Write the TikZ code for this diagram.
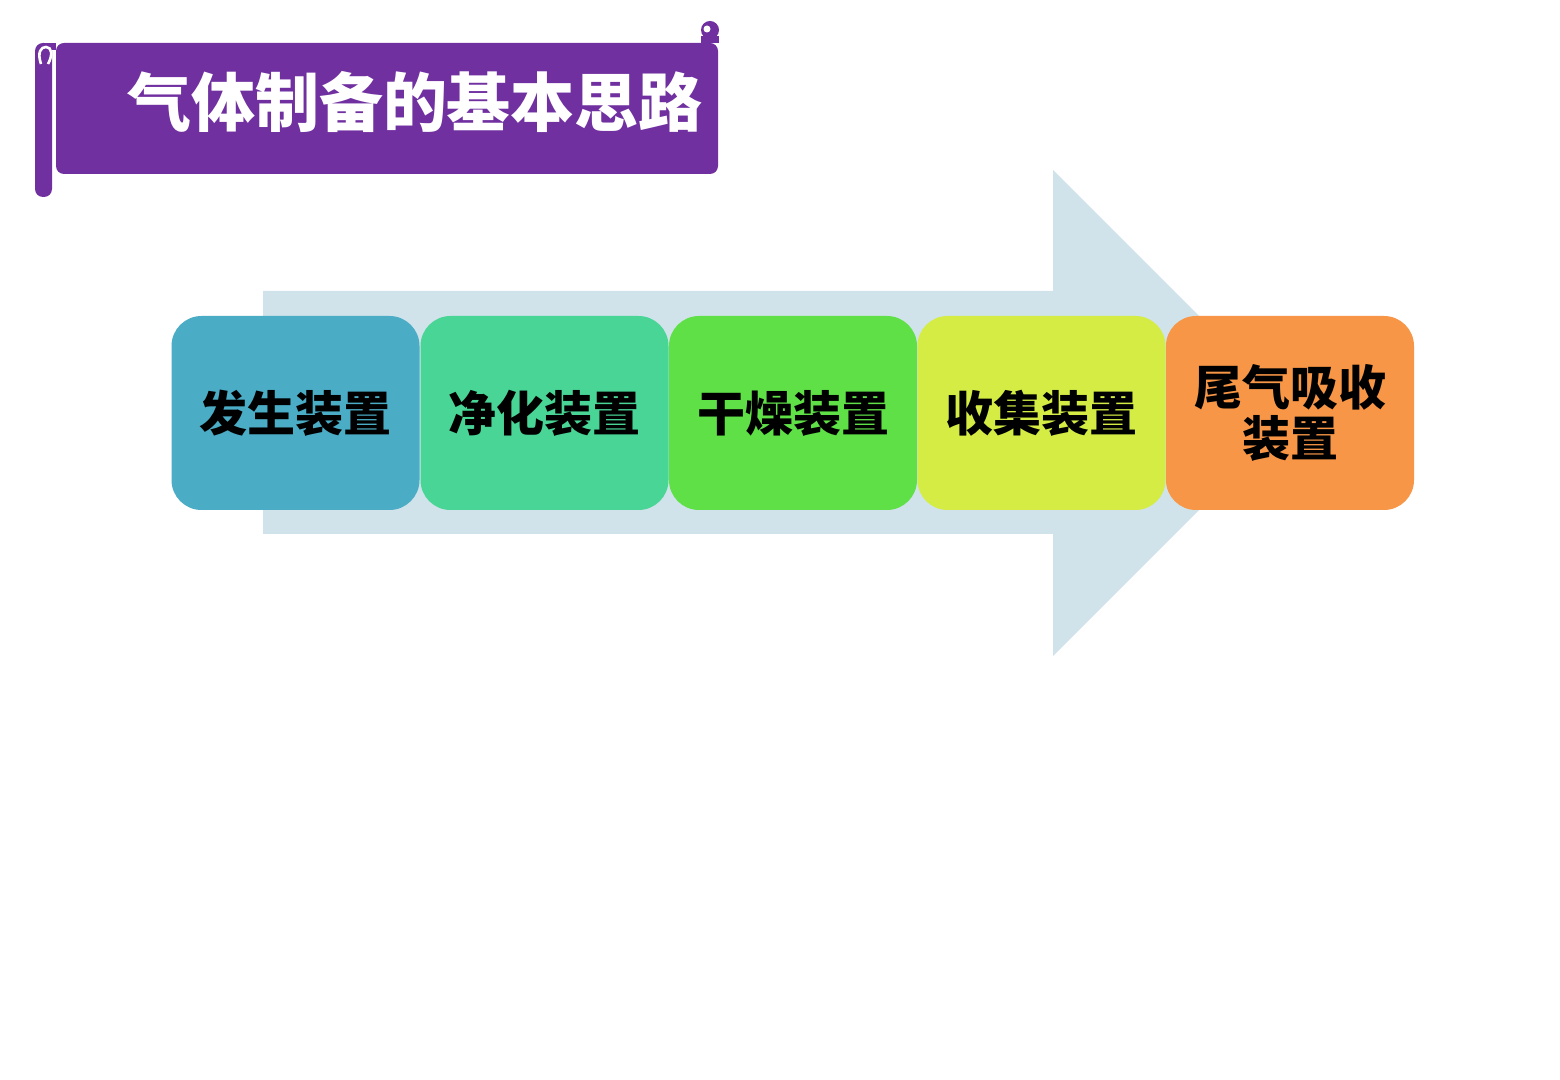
\documentclass[tikz,border=0pt]{standalone}
\usepackage{fontspec}
\newfontfamily\cjk{Noto Sans CJK SC}
\definecolor{arrowc}{HTML}{D0E3EA}
\definecolor{purp}{HTML}{7030A0}
\definecolor{cA}{HTML}{4BACC6}
\definecolor{cB}{HTML}{48D595}
\definecolor{cC}{HTML}{5EE046}
\definecolor{cD}{HTML}{D4EC44}
\definecolor{cE}{HTML}{F79646}
\tikzset{
  stagebox/.style={rounded corners=15pt, minimum width=124pt, minimum height=97pt, inner sep=0pt, align=center,
    font=\cjk\bfseries\fontsize{24}{25.5}\selectfont, text=black},
}
\begin{document}
\begin{tikzpicture}[x=0.5pt,y=-0.5pt]
\useasboundingbox[fill=white] (0,0) rectangle (1560,1080);
% big arrow
\fill[arrowc] (263,291) -- (1053,291) -- (1053,170) -- (1296,413) -- (1053,656) -- (1053,534) -- (263,534) -- cycle;
% stages
\node[stagebox, fill=cA] (s1) at (295.5,413) {发生装置};
\node[stagebox, fill=cB] (s2) at (544.5,413) {净化装置};
\node[stagebox, fill=cC] (s3) at (793,413) {干燥装置};
\node[stagebox, fill=cD] (s4) at (1041.5,413) {收集装置};
\node[stagebox, fill=cE] (s5) at (1290,413) {尾气吸收\\装置};
% banner
\fill[purp, rounded corners=4pt] (56,43) -- (718,43) -- (718,174) -- (56,174) -- cycle;
\fill[purp, rounded corners=4pt] (35,43) rectangle (52,197);
\fill[purp] (44,43) rectangle (56,50);
\draw[white, line width=1.3pt] (41,64) .. controls (37,52) and (41,47) .. (46,47) .. controls (52,47) and (53,55) .. (48,64);
% top right curl
\fill[purp] (710,30) circle[radius=9];
\fill[purp] (701,36) rectangle (719,43);
\fill[white] (707,29) circle[radius=3.5];
\node[font=\cjk\bfseries\fontsize{32}{34}\selectfont, text=white, inner sep=0pt] (title) at (415,102) {气体制备的基本思路};
\end{tikzpicture}
\end{document}
